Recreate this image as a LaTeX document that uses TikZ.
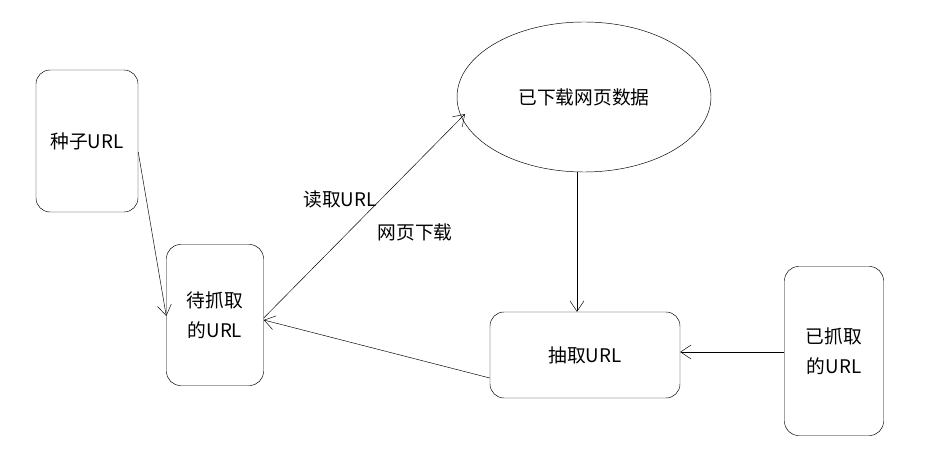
\documentclass[tikz,border=0pt]{standalone}
\usepackage{fontspec}
\setmainfont{Noto Sans CJK SC}
\usetikzlibrary{arrows.meta,shapes.geometric,positioning}
\tikzstyle{box}=[draw,rounded corners=12pt,inner sep=0pt,align=center]
\tikzstyle{link}=[-{Straight Barb[length=9pt,width=12pt]},thin]

\begin{document}
\begin{tikzpicture}[x=0.03cm,y=-0.03cm,
  every node/.style={font=\fontsize{16}{26}\selectfont}
]
\useasboundingbox (0,0) rectangle (950,460);

\node [box,minimum width=102*0.03cm,minimum height=142*0.03cm] (seed) at (87,141) {种子URL};
\node [box,minimum width=97*0.03cm,minimum height=141*0.03cm] (todo) at (215,315) {待抓取\\的URL};
\node [draw,ellipse,minimum width=254*0.03cm,minimum height=150*0.03cm,inner sep=0pt] (data) at (584,97) {已下载网页数据};
\node [box,minimum width=190*0.03cm,minimum height=86*0.03cm] (extract) at (585,355) {抽取URL};
\node [box,minimum width=99*0.03cm,minimum height=169*0.03cm] (done) at (834,351) {已抓取\\的URL};

\draw [link] (seed.east |- 0,152) -- (todo.west |- 0,316);
\draw [link] (todo.east |- 0,318) -- (465,114);
\draw [link] (extract.west |- 0,378) -- (todo.east |- 0,320);
\draw [link] (data.south -| 577,0) -- (extract.north -| 577,0);
\draw [link] (done.west |- 0,352) -- (extract.east |- 0,352);

\node (read) at (340,199) {读取URL};
\node (fetch) at (415,232) {网页下载};

\end{tikzpicture}
\end{document}
